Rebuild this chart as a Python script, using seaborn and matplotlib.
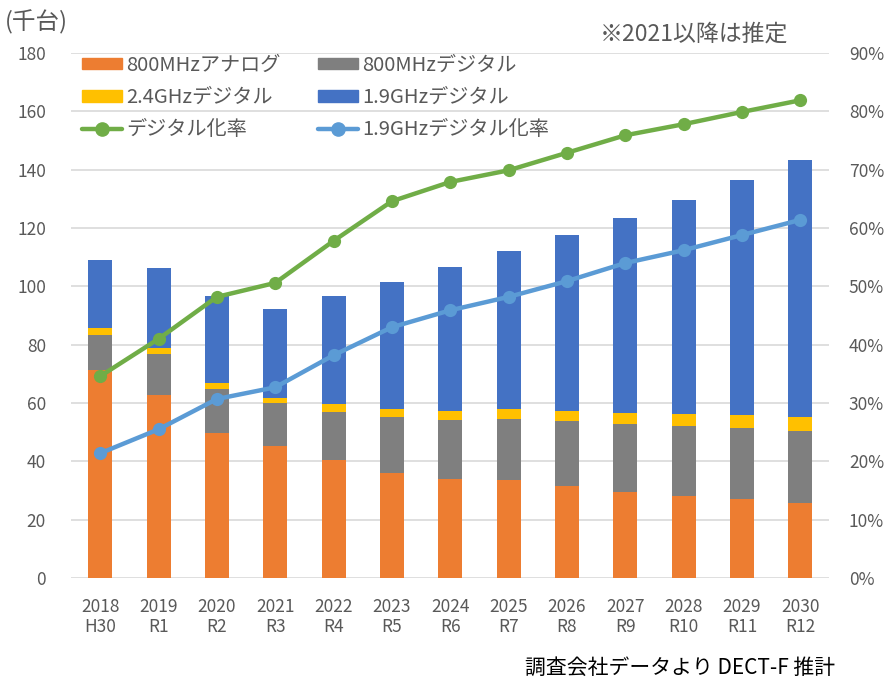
import numpy as np
import pandas as pd
import matplotlib
matplotlib.use("Agg")
import matplotlib.pyplot as plt
from matplotlib.ticker import PercentFormatter, MultipleLocator
from matplotlib.patches import Patch
from matplotlib.lines import Line2D
import seaborn as sns

years = ["2018", "2019", "2020", "2021", "2022", "2023", "2024", "2025", "2026", "2027", "2028", "2029", "2030"]
eras = ["H30", "R1", "R2", "R3", "R4", "R5", "R6", "R7", "R8", "R9", "R10", "R11", "R12"]
analog_800 = [71.5, 62.7, 49.8, 45.3, 40.5, 35.9, 34.1, 33.6, 31.6, 29.4, 28.2, 27.1, 25.8]
digital_800 = [12.0, 14.1, 15.1, 14.6, 16.6, 19.2, 20.1, 21.0, 22.3, 23.4, 23.9, 24.4, 24.6]
digital_24 = [2.3, 2.2, 2.1, 1.8, 2.6, 2.7, 3.2, 3.2, 3.5, 3.9, 4.1, 4.4, 4.7]
digital_19 = [23.3, 27.2, 29.7, 30.4, 37.0, 43.8, 49.1, 54.3, 60.1, 66.9, 73.4, 80.5, 88.2]
digital_rate = [34.6, 41.0, 48.2, 50.6, 57.8, 64.6, 67.9, 69.9, 72.9, 75.9, 77.8, 79.9, 81.9]
digital19_rate = [21.4, 25.5, 30.7, 32.7, 38.2, 43.0, 45.9, 48.2, 50.9, 54.0, 56.2, 58.8, 61.4]

series_names = ["800MHzアナログ", "800MHzデジタル", "2.4GHzデジタル", "1.9GHzデジタル"]
line_names = ["デジタル化率", "1.9GHzデジタル化率"]

sns.set_theme(style="white")
plt.rcParams["font.family"] = ["Noto Sans CJK JP", "DejaVu Sans"]

C_OR, C_GR, C_YE, C_BL = "#ED7D31", "#7F7F7F", "#FFC000", "#4472C4"
C_GN, C_LB = "#70AD47", "#5B9BD5"
TXT = "#595959"

fig = plt.figure(figsize=(8.88, 6.89), dpi=100)
ax = fig.add_axes([0.080, 0.161, 0.854, 0.762])

df = pd.DataFrame({"year": years, "a": analog_800, "g": digital_800, "y": digital_24, "b": digital_19})
bottom = np.zeros(len(years))
for col, color in zip(["a", "g", "y", "b"], [C_OR, C_GR, C_YE, C_BL]):
    sns.barplot(data=df, x="year", y=col, color=color, saturation=1, width=0.41,
                bottom=bottom, ax=ax, zorder=2, linewidth=0)
    bottom = bottom + df[col].to_numpy()

ax.set_xlim(-0.5, len(years) - 0.5)
ax.set_ylim(0, 180)
ax.yaxis.set_major_locator(MultipleLocator(20))
ax.grid(axis="y", color="#D9D9D9", lw=1.2, zorder=0)
ax.set_axisbelow(True)
for s in ax.spines.values():
    s.set_visible(False)
ax.set_xlabel("")
ax.set_ylabel("")
ax.set_xticks(range(len(years)))
ax.set_xticklabels([f"{y}\n{e}" for y, e in zip(years, eras)], fontsize=12.5, color=TXT,
                   linespacing=1.15)
ax.tick_params(axis="x", length=0, pad=14)
ax.tick_params(axis="y", length=0, pad=18, labelsize=12.5, labelcolor=TXT)

ax2 = ax.twinx()
xpos = np.arange(len(years))
sns.lineplot(x=xpos, y=np.array(digital_rate) / 100, color=C_GN, lw=3.2, marker="o",
             markersize=9.5, markeredgewidth=0, ax=ax2, zorder=3)
sns.lineplot(x=xpos, y=np.array(digital19_rate) / 100, color=C_LB, lw=3.2, marker="o",
             markersize=9.5, markeredgewidth=0, ax=ax2, zorder=3)
ax2.set_ylim(0, 0.9)
ax2.yaxis.set_major_locator(MultipleLocator(0.1))
ax2.yaxis.set_major_formatter(PercentFormatter(1.0, decimals=0))
ax2.tick_params(axis="y", length=0, pad=14, labelsize=12.5, labelcolor=TXT)
ax2.grid(False)
ax2.set_xlabel("")
ax2.set_ylabel("")
for s in ax2.spines.values():
    s.set_visible(False)

handles = [
    Patch(color=C_OR), Patch(color=C_YE),
    Line2D([], [], color=C_GN, lw=3.2, marker="o", markersize=9.5),
    Patch(color=C_GR), Patch(color=C_BL),
    Line2D([], [], color=C_LB, lw=3.2, marker="o", markersize=9.5),
]
labels = [series_names[0], series_names[2], line_names[0],
          series_names[1], series_names[3], line_names[1]]
leg = ax2.legend(handles, labels, ncol=2, loc="upper left", bbox_to_anchor=(-0.002, 1.02),
                 frameon=False, fontsize=14.5, handlelength=2.0, handleheight=0.5,
                 handletextpad=0.2, columnspacing=1.85, labelspacing=0.56,
                 borderaxespad=0.2)
for t in leg.get_texts():
    t.set_color(TXT)

fig.text(0.005, 0.968, "(千台)", fontsize=17, color=TXT, ha="left", va="center")
fig.text(0.782, 0.950, "※2021以降は推定", fontsize=16.5, color=TXT, ha="center", va="center")
fig.text(0.94, 0.030, "調査会社データより DECT-F 推計", fontsize=15, color="black",
         ha="right", va="center")

fig.savefig("out.png", dpi=100)
